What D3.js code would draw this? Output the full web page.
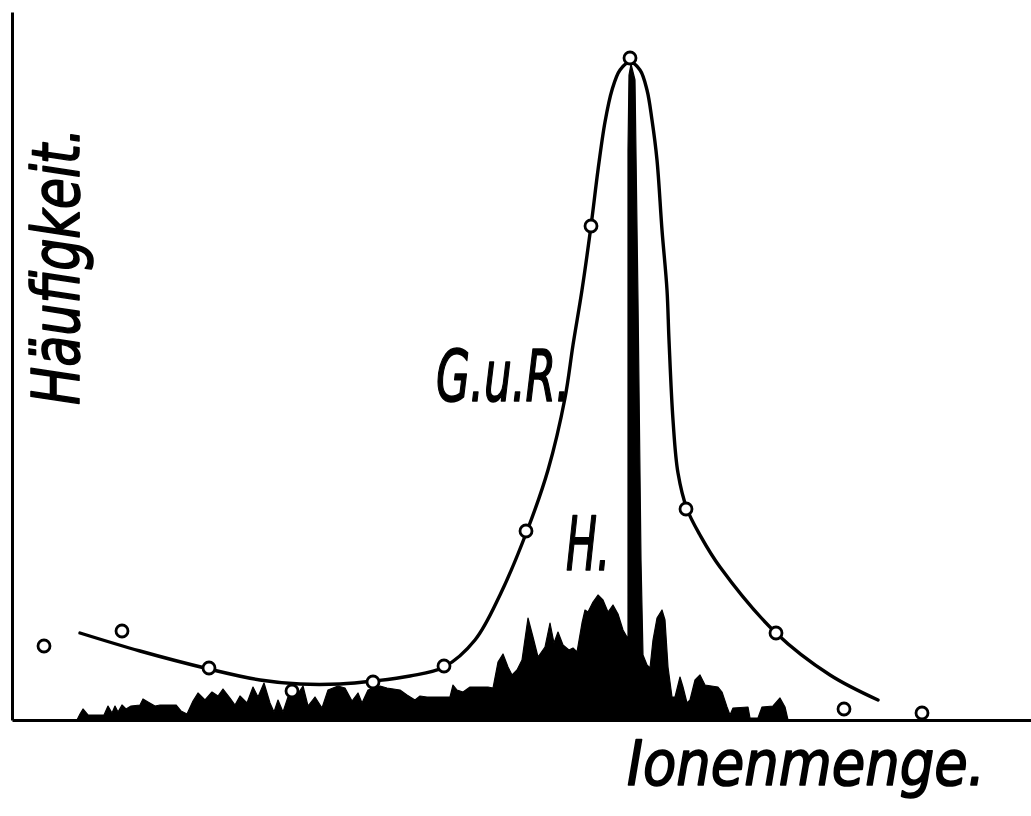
<!DOCTYPE html>
<html>
<head>
<meta charset="utf-8">
<script src="https://cdn.jsdelivr.net/npm/d3@7"></script>
<style>
  html, body { margin: 0; padding: 0; background: #fff; }
  svg { display: block; }
  .lab { font-family: "DejaVu Sans Condensed", "DejaVu Sans", sans-serif; font-style: oblique; font-weight: normal; fill: #000; stroke: #000; stroke-width: 1.6; stroke-linejoin: round; }
</style>
</head>
<body>
<svg id="chart" width="1031" height="816"></svg>
<script>
// ---- data (Ionenmenge units along x, Häufigkeit units along y) ----
// Observed points of "G.u.R." (open circles)
const pointX = [32, 110, 197, 280, 361, 432, 514, 579, 618, 674, 764, 832, 910];
const pointY = [74, 89, 52, 29, 38, 54, 189, 494, 662, 211, 87, 11, 7];

// Smoothed curve "G.u.R."
const curveX = [68, 128, 197, 248, 288, 328, 362, 398, 432, 463, 488, 515, 536, 553, 561, 570, 579, 586, 593, 600, 608, 618, 628, 635, 640, 645, 650, 655, 657, 661, 666, 675, 688, 708, 764, 818, 866];
const curveY = [87, 69, 51, 40, 36, 36, 39, 44, 53, 80, 125, 189, 250, 322, 375, 430, 494, 550, 598, 630, 650, 658, 650, 630, 600, 560, 490, 430, 380, 300, 247, 211, 185, 153, 87, 45, 20];

// Distribution "H." (filled black profile, incl. the narrow main peak)
const histX = [65, 68, 71, 76, 92, 96, 100, 103, 106, 110, 114, 119, 128, 131, 136, 143, 148, 164, 169, 175, 181, 186, 193, 200, 206, 211, 218, 223, 228, 235, 241, 246, 252, 258, 262, 266, 271, 276, 285, 291, 296, 303, 310, 316, 326, 333, 340, 346, 350, 356, 368, 375, 388, 395, 403, 408, 415, 438, 441, 445, 451, 458, 476, 481, 486, 491, 496, 500, 505, 510, 516, 521, 526, 533, 538, 542, 546, 551, 557, 561, 565, 570, 573, 576, 581, 586, 591, 596, 601, 606, 611, 615, 616, 616, 617, 619, 623, 626, 629, 631, 635, 638, 641, 645, 650, 653, 656, 660, 663, 668, 671, 675, 678, 683, 688, 693, 706, 710, 715, 718, 721, 736, 738, 746, 750, 761, 768, 773, 776];
const histY = [0, 6, 11, 5, 5, 14, 7, 14, 8, 15, 11, 14, 15, 21, 18, 14, 15, 15, 9, 6, 19, 27, 20, 28, 24, 31, 22, 15, 24, 17, 33, 23, 37, 17, 8, 20, 8, 23, 25, 34, 14, 23, 12, 30, 34, 32, 19, 27, 17, 30, 34, 32, 30, 25, 20, 24, 23, 23, 35, 30, 28, 33, 33, 32, 58, 66, 53, 45, 50, 60, 102, 83, 63, 73, 97, 77, 88, 75, 70, 72, 68, 97, 110, 108, 118, 125, 120, 108, 115, 106, 90, 83, 80, 570, 645, 656, 640, 420, 160, 65, 55, 52, 80, 102, 110, 100, 53, 23, 23, 43, 33, 17, 20, 40, 45, 35, 33, 28, 13, 5, 12, 13, 2, 2, 13, 14, 22, 13, 0];

// Labels
const xTitle = "Ionenmenge.";
const yTitle = "Häufigkeit.";
const curveLabel = "G.u.R.";
const histLabel = "H.";

// ---- drawing ----
const svg = d3.select("#chart");
const x = d3.scaleLinear().domain([0, 1019]).range([12, 1031]);
const y = d3.scaleLinear().domain([0, 708]).range([720, 12]);

const hist = histX.map((d, i) => [d, histY[i]]);
svg.append("path")
  .datum(hist)
  .attr("d", d3.area().x(d => x(d[0])).y0(y(0)).y1(d => y(d[1])).curve(d3.curveLinear))
  .attr("fill", "#000")
  .attr("stroke", "#000")
  .attr("stroke-width", 1.2)
  .attr("stroke-linejoin", "round");

// axes (plain lines, no ticks)
const xAxis = d3.axisBottom(x).tickValues([]).tickSizeOuter(0);
const yAxis = d3.axisLeft(y).tickValues([]).tickSizeOuter(0);
svg.append("g").attr("transform", `translate(0,${y(0)})`).call(xAxis)
  .select(".domain").attr("stroke", "#000").attr("stroke-width", 3);
svg.append("g").attr("transform", `translate(${x(0)},0)`).call(yAxis)
  .select(".domain").attr("stroke", "#000").attr("stroke-width", 3);

// smoothed curve
const curve = curveX.map((d, i) => [d, curveY[i]]);
svg.append("path")
  .datum(curve)
  .attr("d", d3.line().x(d => x(d[0])).y(d => y(d[1])).curve(d3.curveCatmullRom.alpha(0.5)))
  .attr("fill", "none")
  .attr("stroke", "#000")
  .attr("stroke-width", 3.4)
  .attr("stroke-linecap", "round");

// observed points
svg.append("g").selectAll("circle")
  .data(pointX.map((d, i) => [d, pointY[i]]))
  .join("circle")
  .attr("cx", d => x(d[0]))
  .attr("cy", d => y(d[1]))
  .attr("r", 6)
  .attr("fill", "#fff")
  .attr("stroke", "#000")
  .attr("stroke-width", 2.8);

// labels
svg.append("text").attr("class", "lab")
  .attr("x", 627).attr("y", 785)
  .attr("font-size", 62)
  .attr("textLength", 358).attr("lengthAdjust", "spacingAndGlyphs")
  .text(xTitle);

svg.append("text").attr("class", "lab")
  .attr("transform", "translate(79,405) rotate(-90)")
  .attr("font-size", 66)
  .attr("textLength", 277).attr("lengthAdjust", "spacingAndGlyphs")
  .text(yTitle);

svg.append("text").attr("class", "lab")
  .attr("x", 436).attr("y", 401)
  .attr("font-size", 72)
  .attr("textLength", 134).attr("lengthAdjust", "spacingAndGlyphs")
  .text(curveLabel);

svg.append("text").attr("class", "lab")
  .attr("x", 566).attr("y", 570)
  .attr("font-size", 74)
  .attr("textLength", 44).attr("lengthAdjust", "spacingAndGlyphs")
  .text(histLabel);
</script>
</body>
</html>
